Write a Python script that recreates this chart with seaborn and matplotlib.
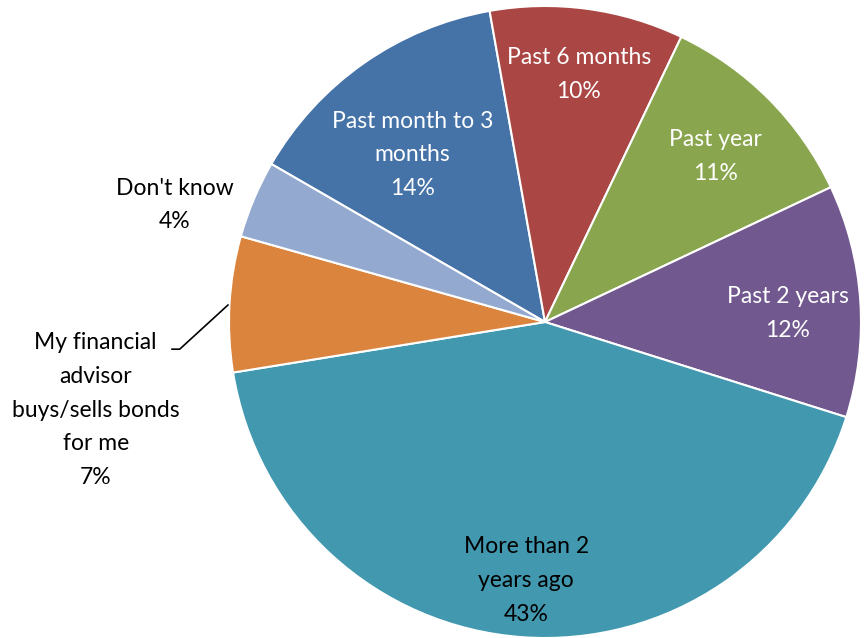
import matplotlib
matplotlib.use("Agg")
import matplotlib.pyplot as plt
import seaborn as sns
import numpy as np

sns.set_theme(style="white")
plt.rcParams['font.family'] = ['Lato', 'DejaVu Sans']

categories = ["Past month to 3\nmonths", "Past 6 months", "Past year", "Past 2 years",
              "More than 2\nyears ago", "My financial\nadvisor\nbuys/sells bonds\nfor me", "Don't know"]
values = [14, 10, 11, 12, 43, 7, 4]
pct_labels = ["14%", "10%", "11%", "12%", "43%", "7%", "4%"]
colors = ["#4572A7", "#AA4643", "#89A54E", "#71588F", "#4198AF", "#DB843D", "#93A9CF"]
text_colors = ["white", "white", "white", "white", "black", "black", "black"]

fig = plt.figure(figsize=(8.66, 6.38), dpi=100)
# pie centre at (545, 322) px, radius ~316 px
R = 316
cx, cy = 545, 322
ax = fig.add_axes([(cx - R) / 866, (638 - cy - R) / 638, 2 * R / 866, 2 * R / 638])

wedges, _ = ax.pie(values, colors=colors, startangle=150, counterclock=False,
                   wedgeprops=dict(edgecolor="white", linewidth=1.5))
ax.set_xlim(-1, 1)
ax.set_ylim(-1, 1)
ax.set_aspect("equal")
ax.axis("off")

# label radius factors (inside), small nudges, and explicit outside positions
radii = [0.68, 0.80, 0.76, 0.77, 0.82, None, None]
nudges = [(-0.028, -0.028), (0.0, -0.01), (0.0, -0.013), (0.0, -0.025), (0.0, 0.0), (0, 0), (0, 0)]
outside = {5: (-1.422, -0.279), 6: (-1.171, 0.37)}

for i, w in enumerate(wedges):
    txt = categories[i] + "\n" + pct_labels[i]
    if i in outside:
        x, y = outside[i]
    else:
        mid = np.deg2rad((w.theta1 + w.theta2) / 2)
        x = radii[i] * np.cos(mid) + nudges[i][0]
        y = radii[i] * np.sin(mid) + nudges[i][1]
    ax.text(x, y, txt, ha="center", va="center", color=text_colors[i],
            fontsize=16.5, linespacing=1.75, clip_on=False)

# leader line for financial advisor label
ax.plot([-1.181, -1.156, -1.003], [-0.086, -0.086, 0.054], color="black", lw=1.2, clip_on=False)

fig.savefig("out.png", dpi=100)
